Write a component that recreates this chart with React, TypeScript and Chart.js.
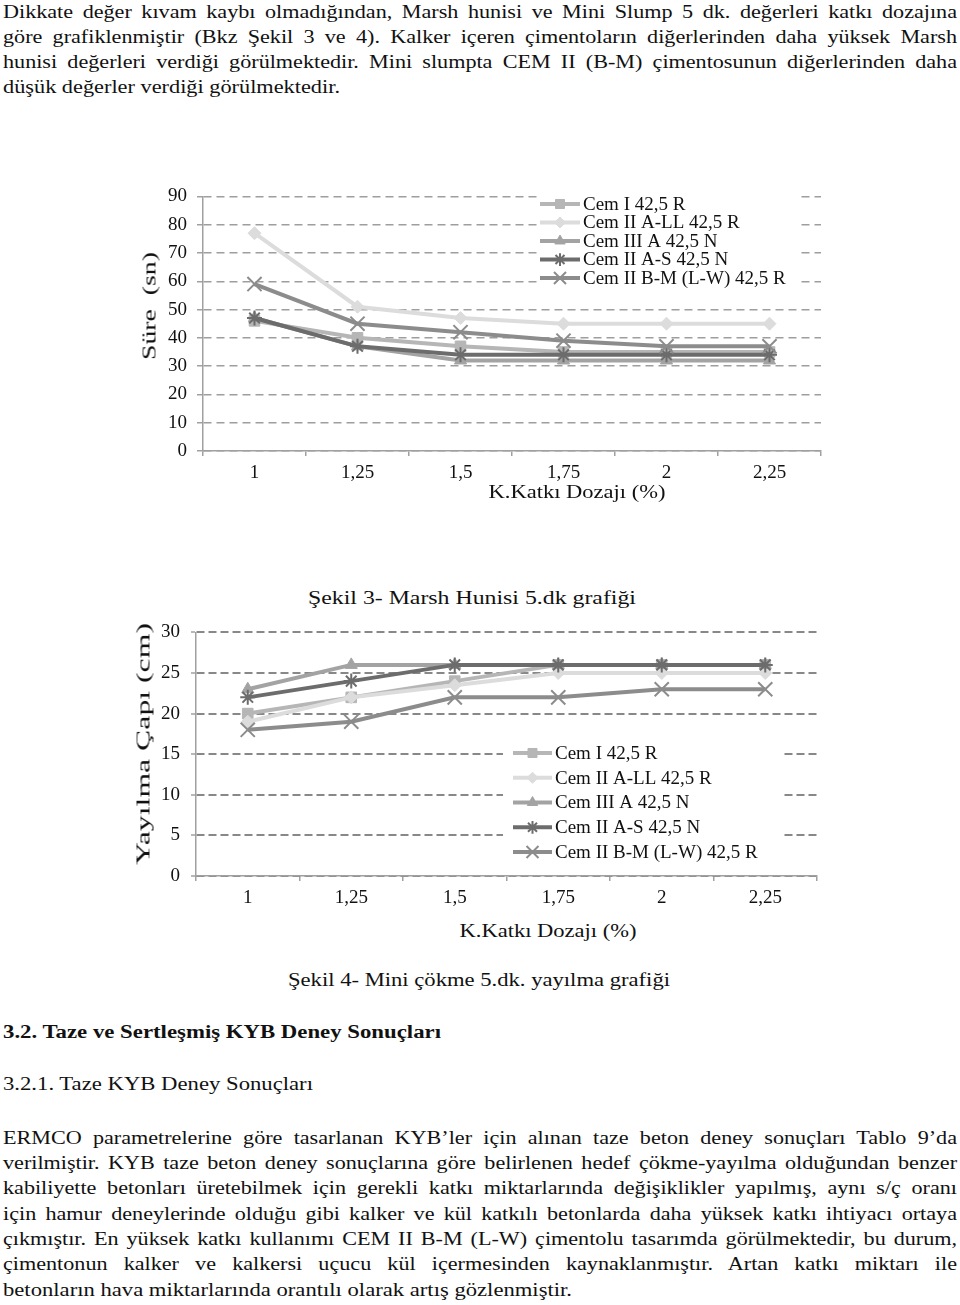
import React, { useEffect, useLayoutEffect, useRef } from 'react';
import { Chart, registerables } from 'chart.js';
import { drawPoint } from 'chart.js/helpers';

Chart.register(...registerables);

const FONT = "'Liberation Serif', 'Times New Roman', serif";
const S = 1.23;

// ---------- data ----------
const dosages = ['1', '1,25', '1,5', '1,75', '2', '2,25'];
const cementNames = [
  'Cem I 42,5 R',
  'Cem II A-LL 42,5 R',
  'Cem III A 42,5 N',
  'Cem II A-S 42,5 N',
  'Cem II B-M (L-W) 42,5 R',
];

// Şekil 3 – Marsh hunisi süre (sn)
const marshCemI = [46, 40, 37, 35, 35, 35];
const marshCemIIALL = [77, 51, 47, 45, 45, 45];
const marshCemIIIA = [47, 37, 32, 32, 32, 32];
const marshCemIIAS = [47, 37, 34, 34, 34, 34];
const marshCemIIBM = [59, 45, 42, 39, 37, 37];

// Şekil 4 – Mini çökme yayılma çapı (cm)
const slumpCemI = [20, 22, 24, 26, 26, 26];
const slumpCemIIALL = [19, 22, 23.5, 25, 25, 25];
const slumpCemIIIA = [23, 26, 26, 26, 26, 26];
const slumpCemIIAS = [22, 24, 26, 26, 26, 26];
const slumpCemIIBM = [18, 19, 22, 22, 23, 23];

const marshAxis = { min: 0, max: 90, step: 10 };
const slumpAxis = { min: 0, max: 30, step: 5 };

// ---------- styles ----------
const seriesStyles = [
  { color: '#b6b6b6', pointStyle: 'rect', radius: 7.5, pbw: 1 },
  { color: '#dcdcdc', pointStyle: 'rectRot', radius: 6.5, pbw: 1 },
  { color: '#a3a3a3', pointStyle: 'triangle', radius: 7, pbw: 1 },
  { color: '#6c6c6c', pointStyle: 'star', radius: 7.5, pbw: 2 },
  { color: '#8c8c8c', pointStyle: 'crossRot', radius: 10, pbw: 2 },
];

const boxLegendPlugin = {
  id: 'boxLegend',
  afterDraw(chart: any, _args: any, opts: any) {
    if (!opts || !opts.box) return;
    const ctx = chart.ctx;
    ctx.save();
    ctx.fillStyle = '#ffffff';
    ctx.fillRect(opts.box.x, opts.box.y, opts.box.w, opts.box.h);
    chart.data.datasets.forEach((ds: any, i: number) => {
      const y = opts.rowY + i * opts.rowGap;
      ctx.save();
      ctx.setLineDash([]);
      ctx.strokeStyle = ds.borderColor;
      ctx.lineWidth = ds.borderWidth;
      ctx.beginPath();
      ctx.moveTo(opts.lineX0, y);
      ctx.lineTo(opts.lineX1, y);
      ctx.stroke();
      ctx.fillStyle = ds.pointBackgroundColor;
      ctx.strokeStyle = ds.pointBorderColor;
      ctx.lineWidth = ds.pointBorderWidth;
      drawPoint(ctx, { pointStyle: ds.pointStyle, rotation: 0, radius: ds.pointRadius * 0.85, borderWidth: ds.pointBorderWidth }, (opts.lineX0 + opts.lineX1) / 2, y);
      ctx.restore();
      ctx.fillStyle = '#111';
      ctx.font = `${opts.fontSize}px ${FONT}`;
      ctx.textBaseline = 'middle';
      ctx.textAlign = 'left';
      ctx.fillText(ds.label, opts.textX, y + 1);
    });
    ctx.restore();
  },
};

function LineChart({ box, plot, series, axis, legend, grid, tickPad }: any) {
  const ref = useRef<HTMLCanvasElement>(null);
  useEffect(() => {
    const canvas = ref.current;
    if (!canvas) return;
    const datasets = series.map((values: number[], i: number) => {
      const st = seriesStyles[i];
      return {
        label: cementNames[i],
        data: values,
        borderColor: st.color,
        backgroundColor: st.color,
        borderWidth: 4,
        pointStyle: st.pointStyle,
        pointRadius: st.radius,
        pointBackgroundColor: st.color,
        pointBorderColor: st.color,
        pointBorderWidth: st.pbw,
        tension: 0,
        order: series.length - i,
        clip: false,
      };
    });
    const tickFont = { family: FONT, size: 19 };
    const chart = new Chart(canvas, {
      type: 'line',
      data: { labels: dosages, datasets },
      options: {
        animation: false,
        responsive: false,
        devicePixelRatio: 1,
        layout: {
          padding: {
            top: plot.top - box.top,
            right: box.left + box.width - plot.right,
            left: 0,
            bottom: 0,
          },
        },
        plugins: {
          legend: { display: false },
          tooltip: { enabled: false },
          boxLegend: legend,
        },
        scales: {
          x: {
            type: 'category',
            offset: true,
            grid: {
              drawOnChartArea: false,
              offset: true,
              tickLength: 5,
              color: grid.axis,
              lineWidth: 1.5,
            },
            border: { color: grid.axis, width: 1.5 },
            ticks: { color: '#111', font: tickFont, padding: tickPad.x, maxRotation: 0, autoSkip: false },
            afterFit: (s: any) => {
              s.height = box.top + box.height - plot.bottom;
            },
          },
          y: {
            min: axis.min,
            max: axis.max,
            ticks: { stepSize: axis.step, color: '#111', font: tickFont, padding: tickPad.y },
            grid: {
              color: grid.color,
              lineWidth: grid.width,
              tickLength: grid.tick,
              tickColor: grid.axis,
              tickWidth: 1.5,
            },
            border: { dash: grid.dash, color: grid.axis, width: 1.5 },
            afterFit: (s: any) => {
              s.width = plot.left - box.left;
            },
          },
        },
      } as any,
      plugins: [boxLegendPlugin as any],
    });
    return () => chart.destroy();
  }, []);
  return (
    <canvas
      ref={ref}
      width={box.width}
      height={box.height}
      style={{ position: 'absolute', left: box.left, top: box.top, width: box.width, height: box.height }}
    />
  );
}

function FitText({ x, y, len, text, size = 18, bold = false, rotate = 0, anchor = 'center' }: any) {
  const ref = useRef<HTMLDivElement>(null);
  useLayoutEffect(() => {
    const el = ref.current;
    if (!el) return;
    el.style.transform = 'none';
    const nat = el.getBoundingClientRect().width;
    const k = len / nat;
    if (anchor === 'left') {
      el.style.transformOrigin = '0 50%';
      el.style.transform = `translateY(-50%) scaleX(${k})`;
    } else {
      el.style.transformOrigin = '50% 50%';
      el.style.transform = `translate(-50%, -50%) rotate(${rotate}deg) scaleX(${k})`;
    }
  }, [len, text, rotate, anchor]);
  return (
    <div
      ref={ref}
      style={{
        position: 'absolute',
        left: x,
        top: y,
        whiteSpace: 'pre',
        fontFamily: FONT,
        fontSize: size,
        fontWeight: bold ? 700 : 400,
        lineHeight: '25px',
        color: '#111',
      }}
    >
      {text}
    </div>
  );
}

function JLine({ x, y, w, text, size = 18 }: any) {
  const ref = useRef<HTMLDivElement>(null);
  useLayoutEffect(() => {
    const el = ref.current;
    if (!el) return;
    el.style.transform = 'none';
    el.style.wordSpacing = '0px';
    const nat = el.getBoundingClientRect().width;
    const spaces = (text.match(/ /g) || []).length;
    const ws = spaces ? (w / S - nat) / spaces : 0;
    el.style.wordSpacing = `${ws}px`;
    el.style.transformOrigin = '0 50%';
    el.style.transform = `translateY(-50%) scaleX(${S})`;
  }, [text, w]);
  return (
    <div
      ref={ref}
      style={{
        position: 'absolute',
        left: x,
        top: y,
        whiteSpace: 'pre',
        fontFamily: FONT,
        fontSize: size,
        lineHeight: '25px',
        color: '#111',
      }}
    >
      {text}
    </div>
  );
}

const par1 = [
  'Dikkate değer kıvam kaybı olmadığından, Marsh hunisi ve Mini Slump 5 dk. değerleri katkı dozajına',
  'göre grafiklenmiştir (Bkz Şekil 3 ve 4). Kalker içeren çimentoların diğerlerinden daha yüksek Marsh',
  'hunisi değerleri verdiği görülmektedir. Mini slumpta CEM II (B-M) çimentosunun diğerlerinden daha',
];
const par1Last = 'düşük değerler verdiği görülmektedir.';
const par2 = [
  'ERMCO parametrelerine göre tasarlanan KYB’ler için alınan taze beton deney sonuçları Tablo 9’da',
  'verilmiştir. KYB taze beton deney sonuçlarına göre belirlenen hedef çökme-yayılma olduğundan benzer',
  'kabiliyette betonları üretebilmek için gerekli katkı miktarlarında değişiklikler yapılmış, aynı s/ç oranı',
  'için hamur deneylerinde olduğu gibi kalker ve kül katkılı betonlarda daha yüksek katkı ihtiyacı ortaya',
  'çıkmıştır. En yüksek katkı kullanımı CEM II B-M (L-W) çimentolu tasarımda görülmektedir, bu durum,',
  'çimentonun kalker ve kalkersi uçucu kül içermesinden kaynaklanmıştır. Artan katkı miktarı ile',
];
const par2Last = 'betonların hava miktarlarında orantılı olarak artış gözlenmiştir.';
const par1Y = [12, 37, 62];
const par2Y = [1138, 1163, 1188, 1213.5, 1239, 1264];

export default function App() {
  const chart1Box = { left: 150, top: 175, width: 690, height: 315 };
  const chart2Box = { left: 140, top: 610, width: 700, height: 305 };
  return (
    <div style={{ position: 'absolute', left: 0, top: 0, width: 960, height: 1305, background: '#fff', overflow: 'hidden' }}>
      {par1.map((t, i) => (
        <JLine key={'p1' + i} x={3} y={par1Y[i]} w={954} text={t} />
      ))}
      <FitText x={3} y={87} len={337} text={par1Last} anchor="left" />

      <LineChart
        box={chart1Box}
        plot={{ left: 203, top: 192, right: 821, bottom: 451 }}
        series={[marshCemI, marshCemIIALL, marshCemIIIA, marshCemIIAS, marshCemIIBM]}
        axis={marshAxis}
        grid={{ color: '#9e9e9e', axis: '#a0a0a0', width: 1.5, dash: [8, 5], tick: 6 }}
        tickPad={{ x: 6, y: 10 }}
        legend={{
          box: { x: 537 - 150, y: 195 - 175, w: 261, h: 93 },
          rowY: 204 - 175,
          rowGap: 18.5,
          lineX0: 540 - 150,
          lineX1: 580 - 150,
          textX: 583 - 150,
          fontSize: 19,
        }}
      />
      <FitText x={149} y={306} len={108} text={'Süre  (sn)'} size={19} rotate={-90} />
      <FitText x={577} y={491} len={177} text={'K.Katkı Dozajı (%)'} size={19} />

      <FitText x={472} y={598} len={328} text={'Şekil 3- Marsh Hunisi 5.dk grafiği'} />

      <LineChart
        box={chart2Box}
        plot={{ left: 196, top: 627, right: 817, bottom: 876 }}
        series={[slumpCemI, slumpCemIIALL, slumpCemIIIA, slumpCemIIAS, slumpCemIIBM]}
        axis={slumpAxis}
        grid={{ color: '#888888', axis: '#a0a0a0', width: 2, dash: [8, 4], tick: 5 }}
        tickPad={{ x: 6, y: 11 }}
        legend={{
          box: { x: 503 - 140, y: 738 - 610, w: 280, h: 128 },
          rowY: 753 - 610,
          rowGap: 24.75,
          lineX0: 513 - 140,
          lineX1: 552 - 140,
          textX: 555 - 140,
          fontSize: 19,
        }}
      />
      <FitText x={143} y={744} len={242} text={'Yayılma Çapı (cm)'} size={19} rotate={-90} />
      <FitText x={548} y={930} len={177} text={'K.Katkı Dozajı (%)'} size={19} />

      <FitText x={479} y={980} len={382} text={'Şekil 4- Mini çökme 5.dk. yayılma grafiği'} />
      <FitText x={3} y={1032} len={438} text={'3.2. Taze ve Sertleşmiş KYB Deney Sonuçları'} bold anchor="left" />
      <FitText x={3} y={1084} len={310} text={'3.2.1. Taze KYB Deney Sonuçları'} anchor="left" />

      {par2.map((t, i) => (
        <JLine key={'p2' + i} x={3} y={par2Y[i]} w={954} text={t} />
      ))}
      <FitText x={3} y={1290} len={569} text={par2Last} anchor="left" />
    </div>
  );
}
